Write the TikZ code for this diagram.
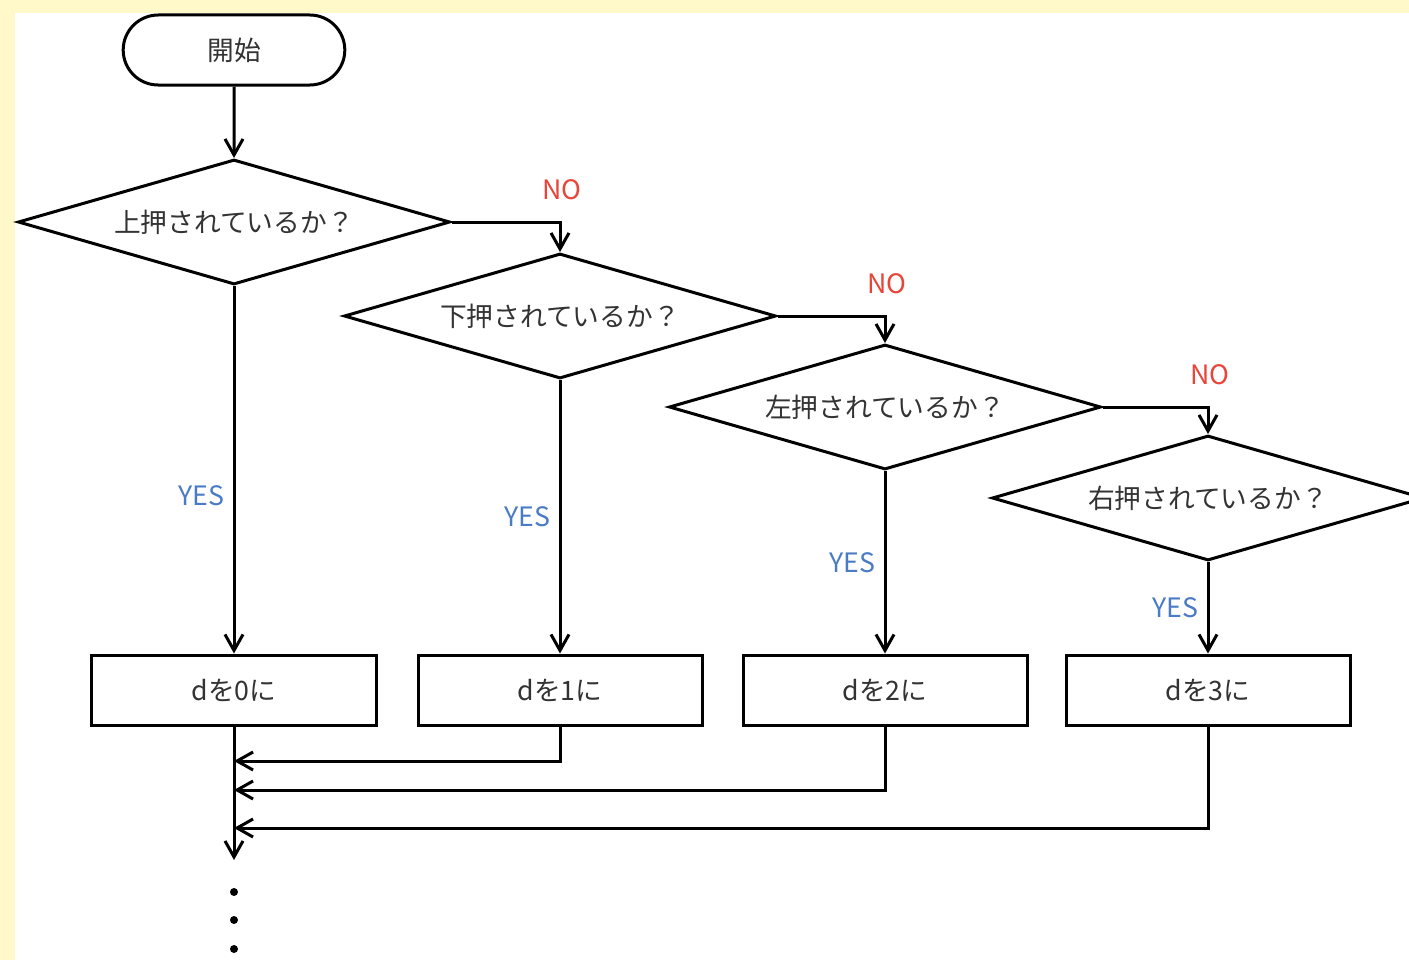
\documentclass[tikz,border=0pt]{standalone}
\usepackage{fontspec}
\setmainfont{Noto Sans CJK JP}
\usetikzlibrary{shapes.geometric,shapes.misc,arrows.meta}
\definecolor{bgyellow}{HTML}{FFF8C8}
\definecolor{txtgray}{HTML}{333333}
\definecolor{nored}{HTML}{E8443A}
\definecolor{yesblue}{HTML}{4A7BC4}

\begin{document}
\begin{tikzpicture}[x=0.25mm, y=-0.25mm, line width=0.75mm,
    >={Straight Barb[length=4mm,width=4.5mm]},
    every node/.style={font=\fontsize{19}{22}\selectfont, text=txtgray},
    terminal/.style={draw, rounded rectangle, minimum width=57.75mm,
                     minimum height=17.5mm},
    decision/.style={draw, diamond, aspect=3.4, inner sep=0pt,
                     minimum width=108mm, minimum height=31.25mm},
    process/.style={draw, rectangle, minimum width=71mm, minimum height=17.5mm},
    yes/.style={text=yesblue, left, inner sep=2mm},
    no/.style={text=nored}]

    % background
    \fill[bgyellow] (0,0) rectangle (1409,960);
    \fill[white] (15,13) rectangle (1409,960);
    \useasboundingbox (0,0) rectangle (1409,960);

    \node[terminal] (start) at (234,50) {開始};

    \foreach \i/\dir/\x/\y [count=\val from 0] in
        {1/上/234/222, 2/下/560/316, 3/左/885/407, 4/右/1208/498} {
            \node[decision] (D\i) at (\x,\y) {\dir 押されているか？};
            \node[process] (B\i) at (\x,690) {dを\val に};
        }

    \draw[->] (start) -- (D1.north);

    % NO branches
    \foreach \i [count=\j from 2] in {1,2,3} {
            \draw[->] (D\i.east) -| node[no, pos=0.5, xshift=0.5mm,
                yshift=8mm] {NO} (D\j.north);
        }

    % YES branches
    \foreach \i/\p in {1/0.57, 2/0.5, 3/0.5, 4/0.5} {
            \draw[->] (D\i.south) -- node[yes, pos=\p] {YES} (B\i.north);
        }

    % merge
    \coordinate (out) at (234,860);
    \draw[->] (B1.south) -- (out);
    \foreach \i/\y in {2/761, 3/790, 4/828} {
            \draw[->] (B\i.south) |- (B1.south |- 0,\y);
        }

    \foreach \y in {892,920,949} {
            \fill (234,\y) circle (1mm);
        }
\end{tikzpicture}
\end{document}
